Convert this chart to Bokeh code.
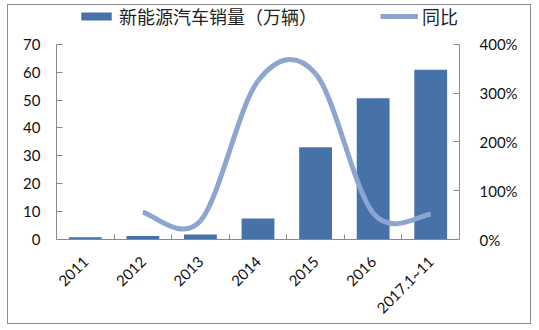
import numpy as np
from math import pi
from bokeh.plotting import figure
from bokeh.models import (Range1d, LinearAxis, FixedTicker, PrintfTickFormatter,
                          Legend, LegendItem, ColumnDataSource)
from bokeh.embed import file_html
from bokeh.resources import INLINE

# ---- data ----
categories = ["2011", "2012", "2013", "2014", "2015", "2016", "2017.1~11"]
sales = [0.8, 1.3, 1.8, 7.5, 33.1, 50.7, 60.9]          # 新能源汽车销量（万辆）
yoy = [None, 56, 38, 325, 340, 54, 52]                 # 同比 (%)
left_ticks = [0, 10, 20, 30, 40, 50, 60, 70]
right_ticks = [0, 100, 200, 300, 400]
series_names = ["新能源汽车销量（万辆）", "同比"]

BAR = "#4671A9"
LINE = "#8DA5CF"
AXIS = "#8a8a8a"
FONT = "Lato"
CJK = "Noto Sans CJK SC"

n = len(categories)
pos = np.arange(n) + 0.5
bounds = np.arange(n + 1).astype(float)

# frame extends above the axes so the legend (which is clipped to the frame) fits
HEAD = 235.0 / 196.0
p = figure(width=524, height=320, x_range=Range1d(0, n),
           y_range=Range1d(0, left_ticks[-1] * HEAD),
           output_backend="svg", toolbar_location=None,
           min_border_left=48, min_border_right=73, min_border_top=0, min_border_bottom=79)
p.margin = (4, 0, 0, 7)
p.styles = {"border": "1px solid #8c8c8c", "box-sizing": "border-box"}
p.xgrid.visible = False
p.ygrid.visible = False
p.outline_line_color = None
p.background_fill_color = "white"
p.border_fill_color = "white"
p.extra_y_ranges = {"pct": Range1d(0, right_ticks[-1] * HEAD)}

bars = p.vbar(x=pos, top=sales, width=0.57, fill_color=BAR, line_color=None)

# smoothed (Excel-like) line via bezier segments
xs = np.array([pos[i] for i in range(n) if yoy[i] is not None])
ys = np.array([yoy[i] for i in range(n) if yoy[i] is not None], dtype=float)
m = len(xs)
px = np.concatenate([[xs[0]], xs, [xs[-1]]])
py = np.concatenate([[ys[0]], ys, [ys[-1]]])
seg = dict(x0=[], y0=[], x1=[], y1=[], cx0=[], cy0=[], cx1=[], cy1=[])
for i in range(m - 1):
    j = i + 1
    seg["x0"].append(px[j]); seg["y0"].append(py[j])
    seg["x1"].append(px[j + 1]); seg["y1"].append(py[j + 1])
    seg["cx0"].append(px[j] + (px[j + 1] - px[j - 1]) / 6)
    seg["cy0"].append(py[j] + (py[j + 1] - py[j - 1]) / 6)
    seg["cx1"].append(px[j + 1] - (px[j + 2] - px[j]) / 6)
    seg["cy1"].append(py[j + 1] - (py[j + 2] - py[j]) / 6)
curve = p.bezier(source=ColumnDataSource(seg), x0="x0", y0="y0", x1="x1", y1="y1",
                 cx0="cx0", cy0="cy0", cx1="cx1", cy1="cy1",
                 line_color=LINE, line_width=5, y_range_name="pct")

# left axis
ya = p.yaxis[0]
ya.ticker = FixedTicker(ticks=left_ticks)
ya.bounds = (left_ticks[0], left_ticks[-1])
ya.major_tick_in = 6
ya.major_tick_out = 0
ya.minor_tick_line_color = None
ya.axis_line_color = AXIS
ya.major_tick_line_color = AXIS
ya.major_label_text_font = FONT
ya.major_label_text_font_size = "15px"
ya.major_label_text_color = "#111111"
ya.major_label_standoff = 16

# right axis
ra = LinearAxis(y_range_name="pct", ticker=FixedTicker(ticks=right_ticks),
                formatter=PrintfTickFormatter(format="%d%%"),
                bounds=(right_ticks[0], right_ticks[-1]))
ra.major_tick_in = 6
ra.major_tick_out = 0
ra.minor_tick_line_color = None
ra.axis_line_color = AXIS
ra.major_tick_line_color = AXIS
ra.major_label_text_font = FONT
ra.major_label_text_font_size = "15px"
ra.major_label_text_color = "#111111"
ra.major_label_standoff = 20
p.add_layout(ra, "right")

# x axis
xa = p.xaxis[0]
xa.ticker = FixedTicker(ticks=list(pos), minor_ticks=list(bounds))
xa.major_label_overrides = {float(x): c for x, c in zip(pos, categories)}
xa.major_tick_line_color = None
xa.minor_tick_in = 5
xa.minor_tick_out = 0
xa.minor_tick_line_color = AXIS
xa.axis_line_color = AXIS
xa.major_label_orientation = pi / 4
xa.major_label_text_font = FONT
xa.major_label_text_font_size = "15px"
xa.major_label_text_color = "#111111"
xa.major_label_standoff = 13

legend = Legend(items=[LegendItem(label=series_names[0], renderers=[bars]),
                       LegendItem(label=series_names[1], renderers=[curve])],
                orientation="horizontal", location=(21, 210),
                glyph_width=38, glyph_height=10, spacing=63, padding=0, margin=0,
                label_text_font=CJK, label_text_font_size="18px",
                label_text_color="#222222", label_standoff=4, label_height=20,
                background_fill_alpha=0, border_line_color=None)
p.add_layout(legend, "center")

open("out.html", "w").write(file_html(p, INLINE))
